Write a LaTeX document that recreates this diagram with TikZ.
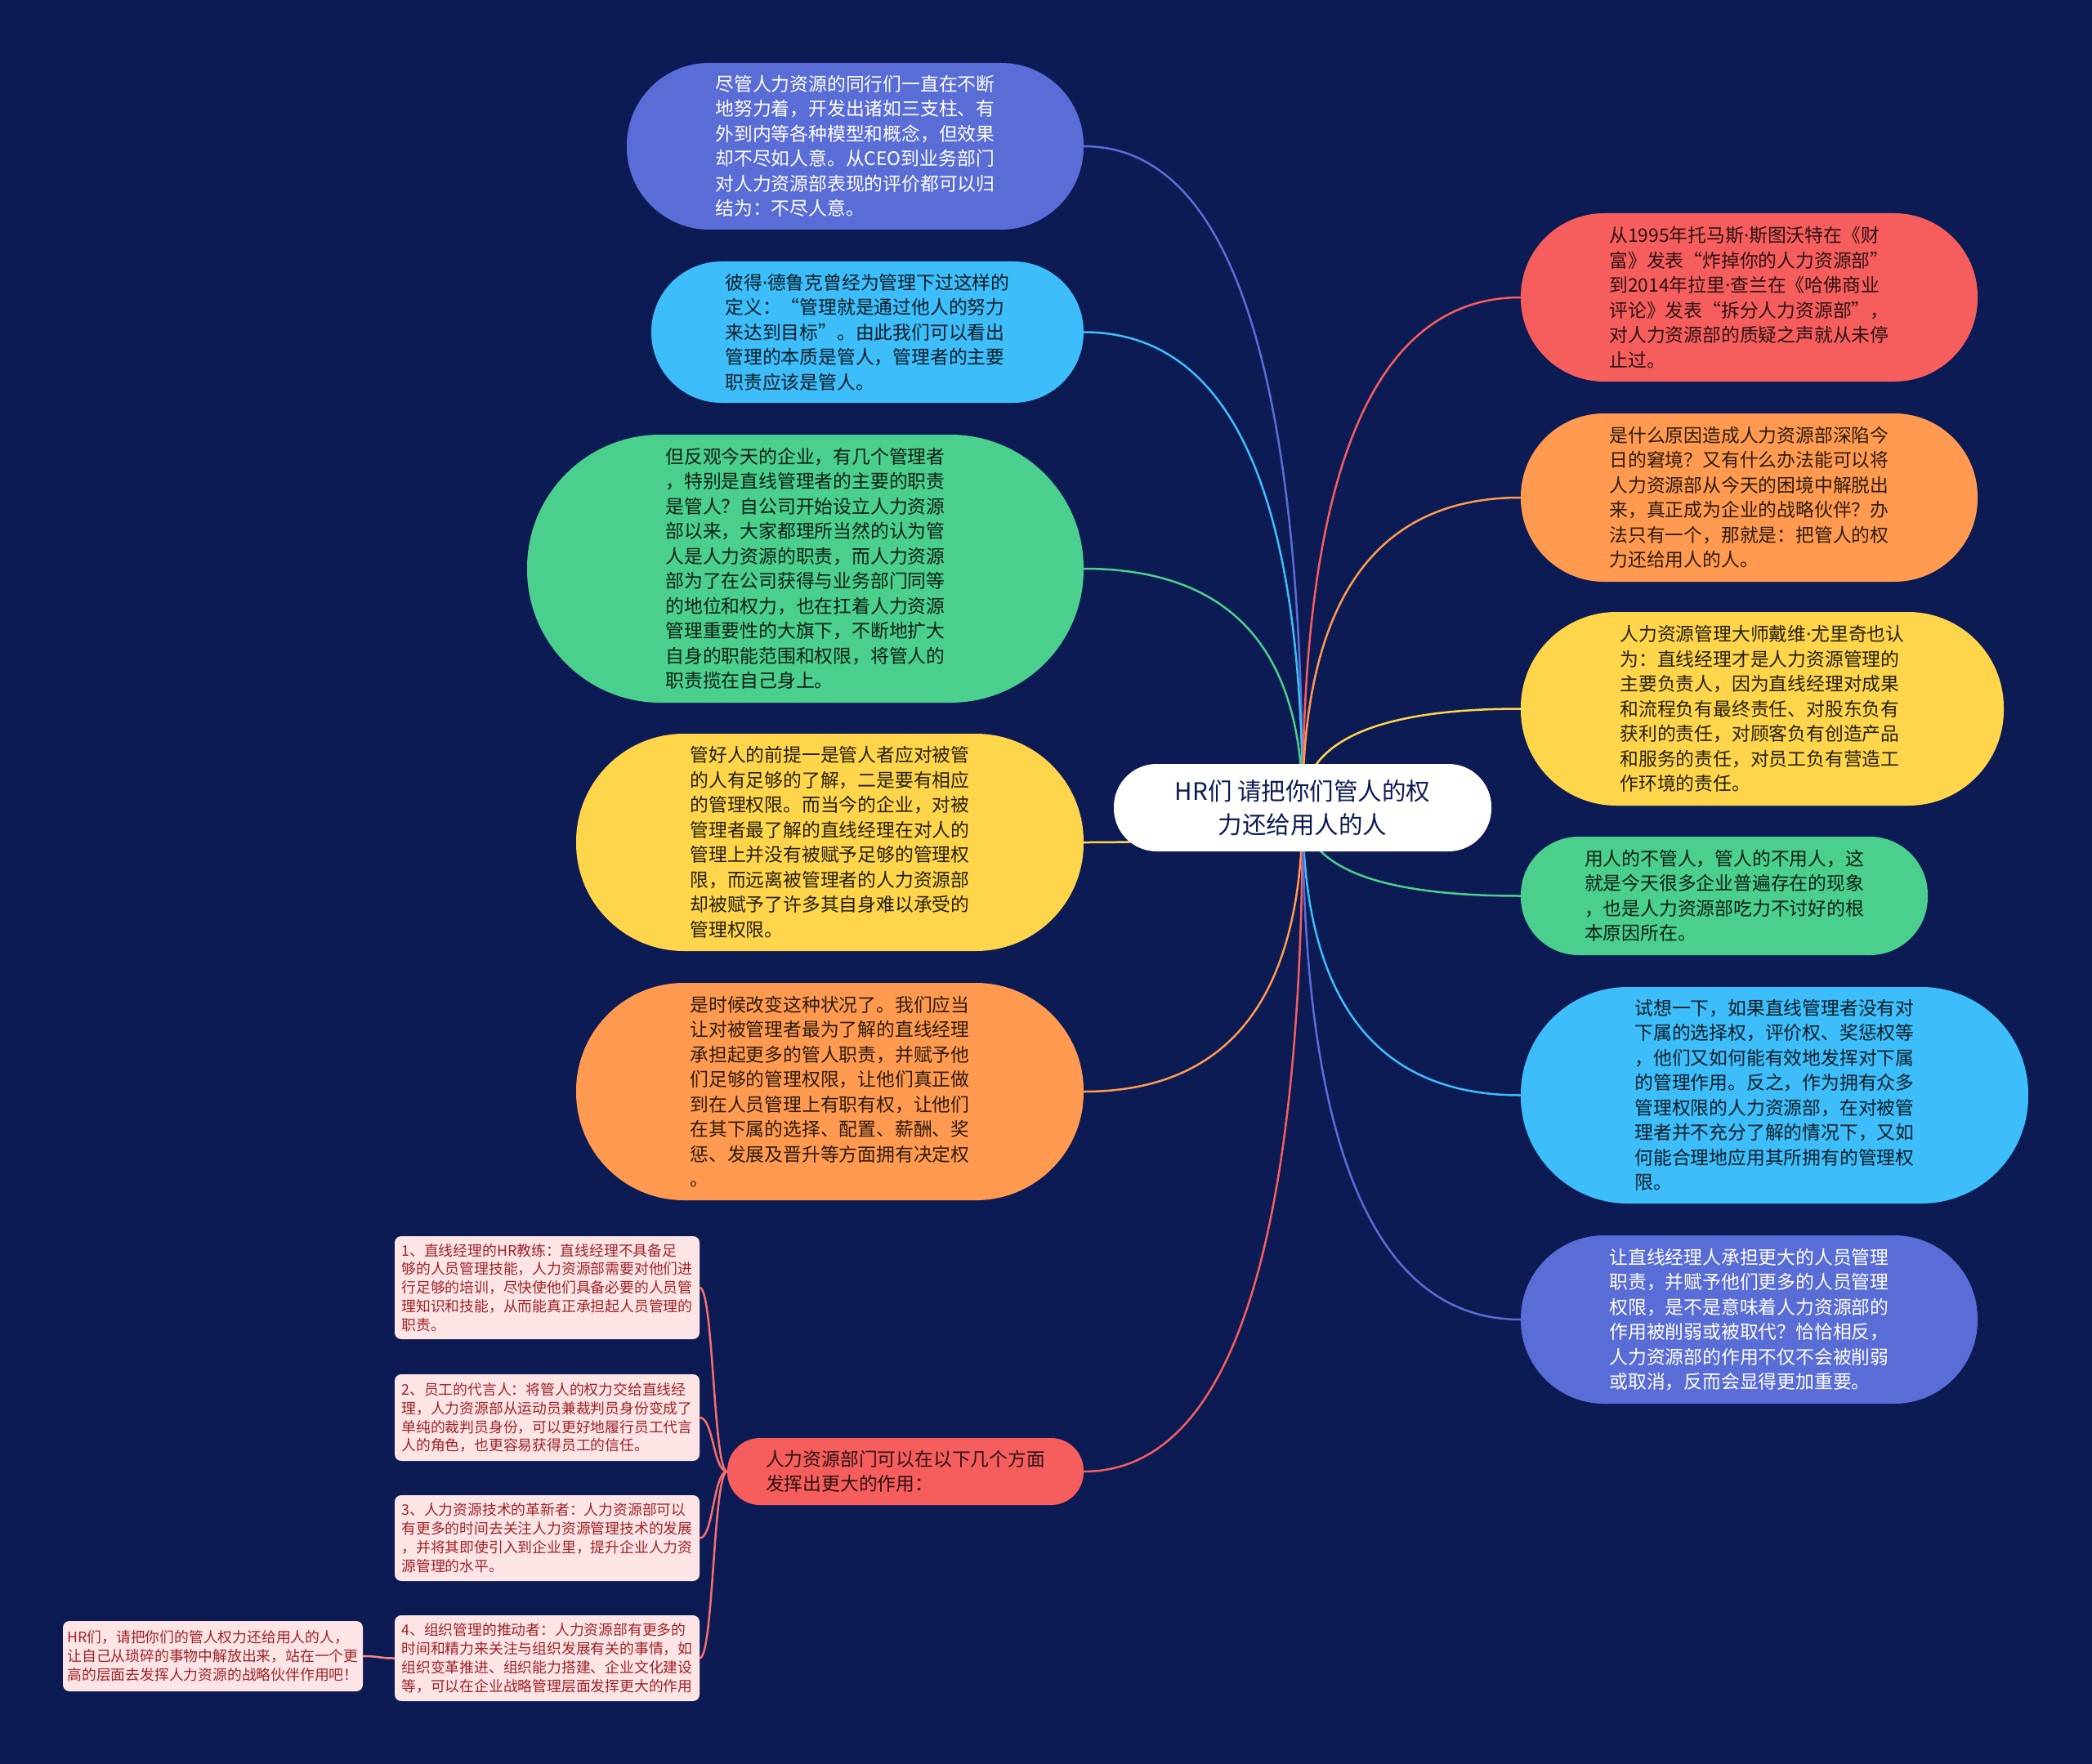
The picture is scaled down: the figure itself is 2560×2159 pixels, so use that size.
\documentclass[tikz,border=0pt]{standalone}
\usepackage{fontspec}
\setmainfont{Noto Sans CJK SC}
\newfontfamily\dotfont{Noto Sans}
\newcommand\mdot{{\dotfont ·}}
\usetikzlibrary{calc}
\pgfdeclarelayer{bglayer}
\pgfdeclarelayer{edgelayer}
\pgfsetlayers{bglayer,edgelayer,main}
\definecolor{bgc}{HTML}{0D1B54}
\definecolor{cblue}{HTML}{5A6DD6}
\definecolor{clblue}{HTML}{3DBEFB}
\definecolor{cgreen}{HTML}{4BCF8C}
\definecolor{cyellow}{HTML}{FFD54C}
\definecolor{corange}{HTML}{FF9A50}
\definecolor{cred}{HTML}{F65E5E}
\definecolor{cpink}{HTML}{FDE5E5}
\definecolor{ctred}{HTML}{9E2329}
\newcommand\qlink[3]{\draw[link,#1] (#2) .. controls ($(#2)!0.667!(#2 |- #3)$) and ($(#3)!0.667!(#2 |- #3)$) .. (#3);}
\begin{document}
\begin{tikzpicture}[x=1pt,y=-1pt,
  pill/.style={rectangle, inner sep=0pt, align=left, rounded corners=#1,
    font=\fontsize{22.8}{30.5}\selectfont},
  smallbox/.style={rectangle, inner sep=0pt, align=left, rounded corners=8pt,
    fill=cpink, text=ctred, minimum width=373pt, font=\fontsize{17.8}{22.9}\selectfont},
  link/.style={line width=2.5pt}]
\begin{pgfonlayer}{bglayer}
\fill[bgc] (0,0) rectangle (2560,2159);
\end{pgfonlayer}
\useasboundingbox (0,0) rectangle (2560,2159);

% centre
\node[pill=52.5pt, fill=white, text=bgc, align=center, minimum width=462pt, minimum height=107pt,
  font=\fontsize{29.5}{41}\selectfont] (C) at (1594,988.5) {HR们 请把你们管人的权\\力还给用人的人};

% left branches
\node[pill=101pt, fill=cblue, text=white, minimum width=559pt, minimum height=204pt] (L1) at (1046.5,179)
 {尽管人力资源的同行们一直在不断\\地努力着，开发出诸如三支柱、有\\外到内等各种模型和概念，但效果\\却不尽如人意。从CEO到业务部门\\对人力资源部表现的评价都可以归\\结为：不尽人意。};
\node[pill=86pt, fill=clblue, text=clblue!15!black, minimum width=529pt, minimum height=173pt] (L2) at (1061.5,406.5)
 {彼得\mdot 德鲁克曾经为管理下过这样的\\定义：“管理就是通过他人的努力\\来达到目标”。由此我们可以看出\\管理的本质是管人，管理者的主要\\职责应该是管人。};
\node[pill=163pt, fill=cgreen, text=cgreen!15!black, minimum width=681pt, minimum height=328pt] (L3) at (985.5,696)
 {但反观今天的企业，有几个管理者\\，特别是直线管理者的主要的职责\\是管人？自公司开始设立人力资源\\部以来，大家都理所当然的认为管\\人是人力资源的职责，而人力资源\\部为了在公司获得与业务部门同等\\的地位和权力，也在扛着人力资源\\管理重要性的大旗下，不断地扩大\\自身的职能范围和权限，将管人的\\职责揽在自己身上。};
\node[pill=132pt, fill=cyellow, text=cyellow!15!black, minimum width=621pt, minimum height=266pt] (L4) at (1015.5,1031)
 {管好人的前提一是管人者应对被管\\的人有足够的了解，二是要有相应\\的管理权限。而当今的企业，对被\\管理者最了解的直线经理在对人的\\管理上并没有被赋予足够的管理权\\限，而远离被管理者的人力资源部\\却被赋予了许多其自身难以承受的\\管理权限。};
\node[pill=132pt, fill=corange, text=corange!18!black, minimum width=621pt, minimum height=266pt] (L5) at (1015.5,1336)
 {是时候改变这种状况了。我们应当\\让对被管理者最为了解的直线经理\\承担起更多的管人职责，并赋予他\\们足够的管理权限，让他们真正做\\到在人员管理上有职有权，让他们\\在其下属的选择、配置、薪酬、奖\\惩、发展及晋升等方面拥有决定权\\。};
\node[pill=40pt, fill=cred, text=cred!18!black, minimum width=436pt, minimum height=82pt] (RN) at (1108,1801)
 {人力资源部门可以在以下几个方面\\发挥出更大的作用：};

% right branches
\node[pill=102pt, fill=cred, text=cred!18!black, minimum width=559pt, minimum height=206pt] (R1) at (2140.5,364)
 {从1995年托马斯\mdot 斯图沃特在《财\\富》发表“炸掉你的人力资源部”\\到2014年拉里\mdot 查兰在《哈佛商业\\评论》发表“拆分人力资源部”，\\对人力资源部的质疑之声就从未停\\止过。};
\node[pill=102pt, fill=corange, text=corange!18!black, minimum width=559pt, minimum height=206pt] (R2) at (2140.5,609)
 {是什么原因造成人力资源部深陷今\\日的窘境？又有什么办法能可以将\\人力资源部从今天的困境中解脱出\\来，真正成为企业的战略伙伴？办\\法只有一个，那就是：把管人的权\\力还给用人的人。};
\node[pill=117pt, fill=cyellow, text=cyellow!15!black, minimum width=591pt, minimum height=237pt] (R3) at (2156.5,867.5)
 {人力资源管理大师戴维\mdot 尤里奇也认\\为：直线经理才是人力资源管理的\\主要负责人，因为直线经理对成果\\和流程负有最终责任、对股东负有\\获利的责任，对顾客负有创造产品\\和服务的责任，对员工负有营造工\\作环境的责任。};
\node[pill=71pt, fill=cgreen, text=cgreen!15!black, minimum width=498pt, minimum height=145pt] (R4) at (2110,1096.5)
 {用人的不管人，管人的不用人，这\\就是今天很多企业普遍存在的现象\\，也是人力资源部吃力不讨好的根\\本原因所在。};
\node[pill=131pt, fill=clblue, text=clblue!15!black, minimum width=621pt, minimum height=265pt] (R5) at (2171.5,1340.5)
 {试想一下，如果直线管理者没有对\\下属的选择权，评价权、奖惩权等\\，他们又如何能有效地发挥对下属\\的管理作用。反之，作为拥有众多\\管理权限的人力资源部，在对被管\\理者并不充分了解的情况下，又如\\何能合理地应用其所拥有的管理权\\限。};
\node[pill=102pt, fill=cblue, text=white, minimum width=559pt, minimum height=206pt] (R6) at (2140.5,1615)
 {让直线经理人承担更大的人员管理\\职责，并赋予他们更多的人员管理\\权限，是不是意味着人力资源部的\\作用被削弱或被取代？恰恰相反，\\人力资源部的作用不仅不会被削弱\\或取消，反而会显得更加重要。};

% small boxes
\node[smallbox, minimum height=126pt] (S1) at (669.5,1576)
 {1、直线经理的HR教练：直线经理不具备足\\够的人员管理技能，人力资源部需要对他们进\\行足够的培训，尽快使他们具备必要的人员管\\理知识和技能，从而能真正承担起人员管理的\\职责。};
\node[smallbox, minimum height=106pt] (S2) at (669.5,1735)
 {2、员工的代言人：将管人的权力交给直线经\\理，人力资源部从运动员兼裁判员身份变成了\\单纯的裁判员身份，可以更好地履行员工代言\\人的角色，也更容易获得员工的信任。};
\node[smallbox, minimum height=105pt] (S3) at (669.5,1882.5)
 {3、人力资源技术的革新者：人力资源部可以\\有更多的时间去关注人力资源管理技术的发展\\，并将其即使引入到企业里，提升企业人力资\\源管理的水平。};
\node[smallbox, minimum height=105pt] (S4) at (669.5,2029.5)
 {4、组织管理的推动者：人力资源部有更多的\\时间和精力来关注与组织发展有关的事情，如\\组织变革推进、组织能力搭建、企业文化建设\\等，可以在企业战略管理层面发挥更大的作用};
\node[smallbox, minimum width=367pt, minimum height=86pt] (LM) at (260.5,2027)
 {HR们，请把你们的管人权力还给用人的人，\\让自己从琐碎的事物中解放出来，站在一个更\\高的层面去发挥人力资源的战略伙伴作用吧！};

% connectors
\begin{pgfonlayer}{edgelayer}
\qlink{cblue}{C.center}{L1.east}
\qlink{clblue}{C.center}{L2.east}
\qlink{cgreen}{C.center}{L3.east}
\qlink{cyellow}{C.center}{L4.east}
\qlink{corange}{C.center}{L5.east}
\qlink{cred}{C.center}{RN.east}
\qlink{cred}{C.center}{R1.west}
\qlink{corange}{C.center}{R2.west}
\qlink{cyellow}{C.center}{R3.west}
\qlink{cgreen}{C.center}{R4.west}
\qlink{clblue}{C.center}{R5.west}
\qlink{cblue}{C.center}{R6.west}
\draw[link,cred!90!white] (RN.west) .. controls +(-17,0) and +(17,0) .. (S1.east);
\draw[link,cred!90!white] (RN.west) .. controls +(-17,0) and +(17,0) .. (S2.east);
\draw[link,cred!90!white] (RN.west) .. controls +(-17,0) and +(17,0) .. (S3.east);
\draw[link,cred!90!white] (RN.west) .. controls +(-17,0) and +(17,0) .. (S4.east);
\draw[link,cred!70!cpink] (S4.west) .. controls +(-20,0) and +(20,0) .. (LM.east);
\end{pgfonlayer}
\end{tikzpicture}
\end{document}
